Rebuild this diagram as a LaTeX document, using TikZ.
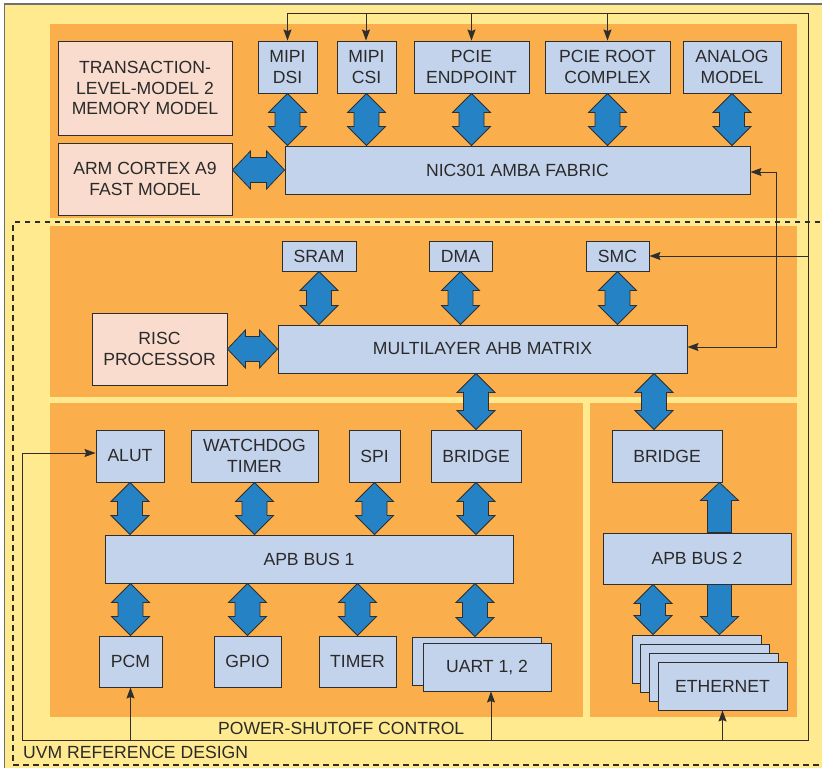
\documentclass[tikz,border=0pt]{standalone}
\usepackage{fontspec}
\setmainfont{Liberation Sans}
\usetikzlibrary{calc,arrows.meta}

\definecolor{bgyellow}{HTML}{FFEA8F}
\definecolor{bordergray}{HTML}{707070}
\definecolor{orng}{HTML}{FAAF4C}
\definecolor{boxblue}{HTML}{C4D3EC}
\definecolor{boxpink}{HTML}{F9DCCD}
\definecolor{arrblue}{HTML}{2582C5}
\definecolor{boxline}{HTML}{2E2E2E}
\definecolor{txt}{HTML}{2A2A2A}

\newcommand\lbl{\fontsize{17.6}{20.5}\selectfont}

\tikzset{
  bbox/.style={draw=boxline, fill=boxblue, line width=0.9pt, inner sep=0pt,
               align=center, font=\lbl, text=txt},
  pbox/.style={bbox, fill=boxpink},
  caption/.style={inner sep=0pt, font=\lbl, text=txt},
  blk/.style={fill=arrblue, draw=boxline, line width=0.8pt, line join=miter},
  sig/.style={draw=boxline, line width=1pt},
  tipshape/.style={},
  sigto/.style={sig, -{Stealth[length=11pt,width=8pt,inset=1.5pt]}},
  sigboth/.style={sig, {Stealth[length=11pt,width=8pt,inset=1.5pt]}-{Stealth[length=11pt,width=8pt,inset=1.5pt]}},
}

% vertical double-headed block arrow: #1 upper tip, #2 lower tip
\newcommand\vdbl[2]{%
  \coordinate (ta) at (#1); \coordinate (tb) at (#2);
  \path[blk] (ta) -- ++(19,19) -- ++(-6.5,0) -- ($(tb)+(12.5,-19)$) -- ++(6.5,0)
    -- (tb) -- ++(-19,-19) -- ++(6.5,0) -- ($(ta)+(-12.5,19)$) -- ++(-6.5,0) -- cycle;}
% horizontal double-headed block arrow: #1 left tip, #2 right tip
\newcommand\hdbl[2]{%
  \coordinate (ta) at (#1); \coordinate (tb) at (#2);
  \path[blk] (ta) -- ++(18,-19) -- ++(0,6.5) -- ($(tb)+(-18,-12.5)$) -- ++(0,-6.5)
    -- (tb) -- ++(-18,19) -- ++(0,-6.5) -- ($(ta)+(18,12.5)$) -- ++(0,6.5) -- cycle;}
% single-headed vertical block arrow: #1 tip, #2 tail, #3 signed head length
\newcommand\vone[3]{%
  \coordinate (ta) at (#1); \coordinate (tb) at (#2);
  \path[blk] (ta) -- ($(ta)+(19,#3)$) -- ($(ta)+(12,#3)$) -- ($(tb)+(12,0)$)
    -- ($(tb)+(-12,0)$) -- ($(ta)+(-12,#3)$) -- ($(ta)+(-19,#3)$) -- cycle;}

\begin{document}
\begin{tikzpicture}[x=1pt,y=-1pt]
\useasboundingbox (0,0) rectangle (822,768);

% background panel and shaded regions
\filldraw[fill=bgyellow, draw=bordergray, line width=1.3pt] (4.5,4) rectangle (860,800);
\fill[orng] (50,24) rectangle (797,218);
\fill[orng] (50,226) rectangle (797,397);
\fill[orng] (50,403) rectangle (583,717);
\fill[orng] (590,403) rectangle (797,717);

% UVM reference design boundary
\draw[boxline, line width=1.1pt, dash pattern=on 5.5pt off 4.5pt]
  (840,222) -- (13,222) -- (13,765) -- (840,765);

% top subsystem
\node[pbox, minimum width=174, minimum height=94] (tlm) at (145,88)
  {TRANSACTION-\\LEVEL-MODEL 2\\MEMORY MODEL};
\node[pbox, minimum width=174, minimum height=72] (arm) at (145,179)
  {ARM CORTEX A9\\FAST MODEL};
\node[bbox, minimum width=59, minimum height=52] (dsi) at (287.5,67) {MIPI\\DSI};
\node[bbox, minimum width=59, minimum height=52] (csi) at (366.5,67) {MIPI\\CSI};
\node[bbox, minimum width=115, minimum height=52] (pcep) at (471.5,67) {PCIE\\ENDPOINT};
\node[bbox, minimum width=125, minimum height=52] (pcrc) at (607.5,67) {PCIE ROOT\\COMPLEX};
\node[bbox, minimum width=98, minimum height=52] (anlg) at (732,67) {ANALOG\\MODEL};
\node[bbox, minimum width=465, minimum height=48] (nic) at (517.5,170) {NIC301 AMBA FABRIC};

% AHB subsystem
\node[bbox, minimum width=74, minimum height=30] (sram) at (319,256) {SRAM};
\node[bbox, minimum width=63, minimum height=30] (dma) at (460.5,256) {DMA};
\node[bbox, minimum width=63, minimum height=30] (smc) at (617.5,256) {SMC};
\node[pbox, minimum width=135, minimum height=72] (risc) at (159.5,349) {RISC\\PROCESSOR};
\node[bbox, minimum width=409, minimum height=48] (ahb) at (482.5,349) {MULTILAYER AHB MATRIX};

% APB bus 1 subsystem
\node[bbox, minimum width=68, minimum height=52] (alut) at (130,456) {ALUT};
\node[bbox, minimum width=127, minimum height=52] (wdt) at (254.5,456) {WATCHDOG\\TIMER};
\node[bbox, minimum width=51, minimum height=52] (spi) at (374.5,456) {SPI};
\node[bbox, minimum width=90, minimum height=52] (brone) at (476,456) {BRIDGE};
\node[bbox, minimum width=408, minimum height=48] (apbone) at (309,559) {APB BUS 1};
\node[bbox, minimum width=63, minimum height=51] (pcm) at (130.5,661.5) {PCM};
\node[bbox, minimum width=67, minimum height=51] (gpio) at (247.5,661.5) {GPIO};
\node[bbox, minimum width=77, minimum height=51] (tmr) at (357.5,661.5) {TIMER};
\node[bbox, minimum width=129, minimum height=48] (uartb) at (476.5,661) {};
\node[bbox, minimum width=128, minimum height=48] (uartf) at (487,667) {UART 1, 2};

% APB bus 2 subsystem
\node[bbox, minimum width=110, minimum height=52] (brtwo) at (667,456) {BRIDGE};
\node[bbox, minimum width=188, minimum height=51] (apbtwo) at (697,558.5) {APB BUS 2};
\node[bbox, minimum width=129, minimum height=48] (etha) at (696.5,659) {};
\node[bbox, minimum width=129, minimum height=48] (ethb) at (705,668) {};
\node[bbox, minimum width=129, minimum height=48] (ethc) at (713.5,677) {};
\node[bbox, minimum width=129, minimum height=48] (ethd) at (722.5,686) {ETHERNET};

% captions
\node[caption, anchor=west] (psc) at (218,728.5) {POWER-SHUTOFF CONTROL};
\node[caption, anchor=west] (uvm) at (23,752.5) {UVM REFERENCE DESIGN};

% power-shutoff control loop
\coordinate (tl) at (287,14);
\coordinate (tr) at (808,14);
\coordinate (br) at (808,740);
\coordinate (bl) at (22,740);
\draw[sig] (tl) -- (tr) -- (br) -- (bl);
\draw[sigto] (bl) |- ([yshift=3pt]alut.west);
\draw[sigto] (dsi.north |- tl) -- (dsi.north);
\draw[sigto] ([xshift=-0.5pt]csi.north |- tl) -- ([xshift=-0.5pt]csi.north);
\draw[sigto] (pcep.north |- tl) -- (pcep.north);
\draw[sigto] (pcrc.north |- tl) -- (pcrc.north);
\draw[sigto] (smc.east -| br) -- (smc.east);
\draw[sigto] (pcm.south |- bl) -- (pcm.south);
\draw[sigto] ([xshift=4pt]uartf.south |- bl) -- ([xshift=4pt]uartf.south);
\draw[sigto] (ethd.south |- bl) -- (ethd.south);
\draw[sigboth] ([yshift=-2pt]nic.east) -- ++(26,0) |- ([yshift=2pt]ahb.east);

% bus connections
\vdbl{dsi.south}{nic.north -| dsi.south}
\vdbl{csi.south}{nic.north -| csi.south}
\vdbl{pcep.south}{nic.north -| pcep.south}
\vdbl{pcrc.south}{nic.north -| pcrc.south}
\vdbl{anlg.south}{nic.north -| anlg.south}
\hdbl{arm.east |- nic.west}{nic.west}
\vdbl{sram.south}{ahb.north -| sram.south}
\vdbl{dma.south}{ahb.north -| dma.south}
\vdbl{smc.south}{ahb.north -| smc.south}
\hdbl{risc.east}{ahb.west}
\vdbl{ahb.south -| brone.north}{brone.north}
\coordinate (xtwo) at (654,0);
\vdbl{ahb.south -| xtwo}{brtwo.north -| xtwo}
\vdbl{alut.south}{apbone.north -| alut.south}
\vdbl{wdt.south}{apbone.north -| wdt.south}
\vdbl{spi.south}{apbone.north -| spi.south}
\vdbl{brone.south}{apbone.north -| brone.south}
\vdbl{apbone.south -| pcm.north}{pcm.north}
\vdbl{apbone.south -| gpio.north}{gpio.north}
\vdbl{apbone.south -| tmr.north}{tmr.north}
\coordinate (xuart) at (475,0);
\vdbl{apbone.south -| xuart}{uartb.north -| xuart}
\coordinate (xeth) at (653,0);
\vdbl{apbtwo.south -| xeth}{etha.north -| xeth}
\coordinate (xwide) at (719.5,0);
\vone{brtwo.south -| xwide}{apbtwo.north -| xwide}{18}
\vone{etha.north -| xwide}{apbtwo.south -| xwide}{-18}
\end{tikzpicture}
\end{document}
